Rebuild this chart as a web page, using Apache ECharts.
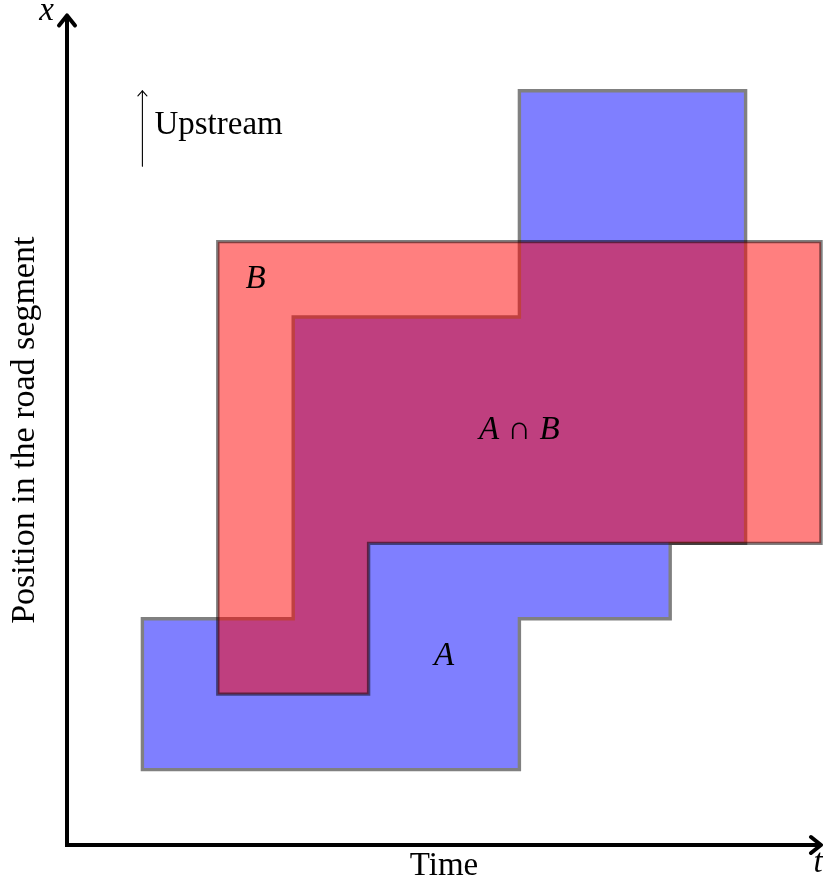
<!DOCTYPE html>
<html><head><meta charset="utf-8">
<script src="https://cdn.jsdelivr.net/npm/echarts@6/dist/echarts.min.js"></script>
<style>html,body{margin:0;padding:0;background:#fff}#c{width:823px;height:888px}</style>
</head><body><div id="c"></div>
<script>
// ---- data ----
const X_RANGE = [0, 10];
const Y_RANGE = [0, 11];
const polyA_x = [1, 6, 6, 8, 8, 9, 9, 6, 6, 3, 3, 1];
const polyA_y = [1, 1, 3, 3, 4, 4, 10, 10, 7, 7, 3, 3];
const polyB_x = [2, 4, 4, 10, 10, 2];
const polyB_y = [2, 2, 4, 4, 8, 8];
const regionLabels = ['A', 'B', 'A \u2229 B'];
const regionLabelX = [5, 2.5, 6];
const regionLabelY = [2.5, 7.5, 5.5];
const upstreamArrowX = [1, 1];
const upstreamArrowY = [9, 10];
const upstreamText = 'Upstream';
const upstreamTextY = 9.5;
const xAxisName = 'Time';
const yAxisName = 'Position in the road segment';
const xAxisSymbol = 't';
const yAxisSymbol = 'x';

const FONT = 'Liberation Serif';
const FS = 33;

function polygonRenderer(xs, ys, fill, stroke) {
  return function (params, api) {
    const pts = xs.map((x, i) => api.coord([x, ys[i]]));
    return {
      type: 'polygon',
      shape: { points: pts },
      style: { fill: fill, stroke: stroke, lineWidth: 3.4, lineJoin: 'miter' }
    };
  };
}

const chart = echarts.init(document.getElementById('c'), null, { renderer: 'canvas' });
chart.setOption({
  animation: false,
  backgroundColor: '#ffffff',
  grid: { left: 65, right: 2, top: 15.4, bottom: 41, containLabel: false },
  xAxis: {
    type: 'value', min: X_RANGE[0], max: X_RANGE[1],
    axisLine: { show: false }, axisTick: { show: false }, axisLabel: { show: false }, splitLine: { show: false },
    name: xAxisName, nameLocation: 'middle', nameGap: 5,
    nameTextStyle: { fontFamily: FONT, fontSize: FS, color: '#000' }
  },
  yAxis: {
    type: 'value', min: Y_RANGE[0], max: Y_RANGE[1],
    axisLine: { show: false }, axisTick: { show: false }, axisLabel: { show: false }, splitLine: { show: false },
    name: yAxisName, nameLocation: 'middle', nameGap: 25,
    nameTextStyle: { fontFamily: FONT, fontSize: 34, color: '#000' }
  },
  series: [
    {
      name: 'A', type: 'custom', silent: true, z: 2,
      data: [[polyA_x[0], polyA_y[0]]],
      renderItem: polygonRenderer(polyA_x, polyA_y, 'rgba(0,0,255,0.5)', '#808080')
    },
    {
      name: 'B', type: 'custom', silent: true, z: 3,
      data: [[polyB_x[0], polyB_y[0]]],
      renderItem: polygonRenderer(polyB_x, polyB_y, 'rgba(255,0,0,0.5)', 'rgba(0,0,0,0.5)')
    },
    {
      name: 'axes', type: 'custom', silent: true, z: 5,
      data: [[X_RANGE[0], Y_RANGE[0]]],
      renderItem: function (params, api) {
        const o = api.coord([X_RANGE[0], Y_RANGE[0]]);
        const xe = api.coord([X_RANGE[1], Y_RANGE[0]]);
        const ye = api.coord([X_RANGE[0], Y_RANGE[1]]);
        const lw = 4, back = 10, side = 8;
        const st = { stroke: '#000', lineWidth: lw, fill: null, lineJoin: 'round', lineCap: 'round' };
        return {
          type: 'group',
          children: [
            { type: 'polyline', shape: { points: [ye, o, xe] }, style: { stroke: '#000', lineWidth: lw, fill: null, lineJoin: 'miter', lineCap: 'butt' } },
            { type: 'polyline', shape: { points: [[xe[0] - back, xe[1] - side], [xe[0], xe[1]], [xe[0] - back, xe[1] + side]] }, style: st },
            { type: 'polyline', shape: { points: [[ye[0] - side, ye[1] + back], [ye[0], ye[1]], [ye[0] + side, ye[1] + back]] }, style: st }
          ]
        };
      }
    },
    {
      name: 'upstreamArrow', type: 'custom', silent: true, z: 5,
      data: [[upstreamArrowX[0], upstreamArrowY[0]]],
      renderItem: function (params, api) {
        const p0 = api.coord([upstreamArrowX[0], upstreamArrowY[0]]);
        const p1 = api.coord([upstreamArrowX[1], upstreamArrowY[1]]);
        const st = { stroke: '#000', lineWidth: 1.1, fill: null, lineJoin: 'round', lineCap: 'round' };
        return {
          type: 'group',
          children: [
            { type: 'line', shape: { x1: p0[0], y1: p0[1], x2: p1[0], y2: p1[1] }, style: st },
            { type: 'polyline', shape: { points: [[p1[0] - 4.5, p1[1] + 5], [p1[0], p1[1]], [p1[0] + 4.5, p1[1] + 5]] }, style: st }
          ]
        };
      }
    },
    {
      name: 'regionLabels', type: 'scatter', silent: true, z: 6,
      symbolSize: 0,
      data: regionLabels.map((t, i) => [regionLabelX[i], regionLabelY[i], t]),
      label: {
        show: true, position: 'inside', formatter: p => p.value[2],
        fontFamily: FONT, fontSize: FS, fontStyle: 'italic', color: '#000', opacity: 1,
        align: 'center', verticalAlign: 'middle'
      }
    },
    {
      name: 'upstreamLabel', type: 'scatter', silent: true, z: 6,
      symbolSize: 0,
      data: [[upstreamArrowX[0], upstreamTextY, upstreamText]],
      label: {
        show: true, position: 'inside', formatter: p => p.value[2], offset: [12, -3],
        fontFamily: FONT, fontSize: FS, color: '#000', opacity: 1,
        align: 'left', verticalAlign: 'middle'
      }
    },
    {
      name: 'axisSymbols', type: 'scatter', silent: true, z: 6,
      symbolSize: 0,
      data: [
        { value: [X_RANGE[1], Y_RANGE[0], xAxisSymbol], label: { offset: [-3, 18] } },
        { value: [X_RANGE[0], Y_RANGE[1], yAxisSymbol], label: { offset: [-20.5, -4] } }
      ],
      label: {
        show: true, position: 'inside', formatter: p => p.value[2],
        fontFamily: FONT, fontSize: FS, fontStyle: 'italic', color: '#000', opacity: 1,
        align: 'center', verticalAlign: 'middle'
      }
    }
  ]
});
</script></body></html>
